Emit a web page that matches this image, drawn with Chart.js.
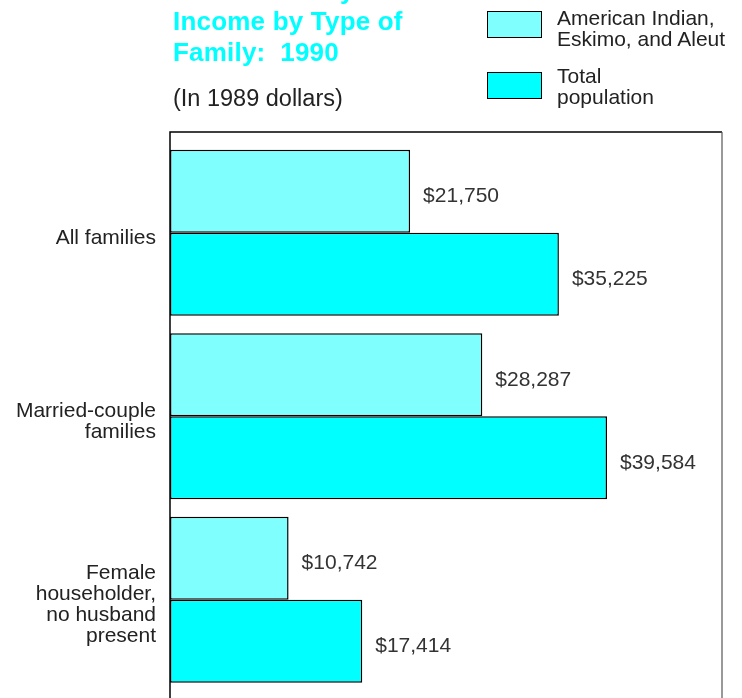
<!DOCTYPE html>
<html>
<head>
<meta charset="utf-8">
<script src="https://cdn.jsdelivr.net/npm/chart.js@4/dist/chart.umd.min.js"></script>
<style>
    body { margin: 0; background: #fff; font-family: "Liberation Sans", Arial, sans-serif; }
    #wrap { position: relative; width: 742px; height: 698px; overflow: hidden; }
    #chart { position: absolute; left: 0; top: 0; }
    .title { position: absolute; left: 173px; top: -25px; color: #00ffff; font-weight: bold; font-size: 26px; letter-spacing: 0.2px; line-height: 31px; white-space: nowrap; }
    .subtitle { position: absolute; left: 173px; top: 85px; color: #222; font-size: 23.5px; line-height: 26px; }
    .legend-box { position: absolute; left: 487px; width: 53px; height: 25px; border: 1.5px solid #000; }
    .legend-text { position: absolute; left: 557px; color: #222; font-size: 21px; line-height: 21px; white-space: nowrap; }
</style>
</head>
<body>
<div id="wrap">
    <canvas id="chart" width="742" height="698"></canvas>
    <div class="title">Median Family<br>Income by Type of<br>Family:&nbsp; 1990</div>
    <div class="subtitle">(In 1989 dollars)</div>
    <div id="legend"></div>
</div>
<script>
const categories = [
    ['All families'],
    ['Married-couple', 'families'],
    ['Female', 'householder,', 'no husband', 'present']
];
const seriesNames = [
    ['American Indian,', 'Eskimo, and Aleut'],
    ['Total', 'population']
];
const indianValues = [21750, 28287, 10742];
const totalValues = [35225, 39584, 17414];
const seriesColors = ['#80ffff', '#00ffff'];

// legend (two-line labels, so plain html)
const legendEl = document.getElementById('legend');
const legendTops = [11, 72];
const textTops = [7, 65];
seriesNames.forEach((name, i) => {
    const box = document.createElement('div');
    box.className = 'legend-box';
    box.style.top = legendTops[i] + 'px';
    box.style.background = seriesColors[i];
    legendEl.appendChild(box);
    const txt = document.createElement('div');
    txt.className = 'legend-text';
    txt.style.top = textTops[i] + 'px';
    txt.innerHTML = name.join('<br>');
    legendEl.appendChild(txt);
});

// frame round the plot, starts a bit above the first bar
const framePlugin = {
    id: 'frame',
    beforeDatasetsDraw(chart) {
        const { ctx, chartArea } = chart;
        const top = chartArea.top - 9;
        ctx.save();
        ctx.strokeStyle = '#000';
        ctx.lineWidth = 1.5;
        ctx.beginPath();
        ctx.moveTo(chartArea.left, chart.height);
        ctx.lineTo(chartArea.left, top);
        ctx.lineTo(chartArea.right, top);
        ctx.stroke();
        ctx.strokeStyle = '#555';
        ctx.lineWidth = 1.2;
        ctx.beginPath();
        ctx.moveTo(chartArea.right, top);
        ctx.lineTo(chartArea.right, chart.height);
        ctx.stroke();
        ctx.restore();
    }
};

const valueLabels = {
    id: 'valueLabels',
    afterDatasetsDraw(chart) {
        const { ctx } = chart;
        ctx.save();
        ctx.font = '21px "Liberation Sans", Arial, sans-serif';
        ctx.fillStyle = '#333';
        ctx.textAlign = 'left';
        ctx.textBaseline = 'alphabetic';
        chart.data.datasets.forEach((ds, di) => {
            chart.getDatasetMeta(di).data.forEach((bar, i) => {
                ctx.fillText('$' + ds.data[i].toLocaleString('en-US'), bar.x + 13, bar.y + 11);
            });
        });
        ctx.restore();
    }
};

const ctx = document.getElementById('chart').getContext('2d');
new Chart(ctx, {
    type: 'bar',
    data: {
        labels: categories,
        datasets: [
            {
                label: seriesNames[0].join(' '),
                data: indianValues,
                backgroundColor: seriesColors[0],
                borderColor: '#000',
                borderWidth: 1.5,
                borderSkipped: false
            },
            {
                label: seriesNames[1].join(' '),
                data: totalValues,
                backgroundColor: seriesColors[1],
                borderColor: '#000',
                borderWidth: 1.5,
                borderSkipped: false
            }
        ]
    },
    options: {
        indexAxis: 'y',
        responsive: false,
        animation: false,
        layout: { padding: { left: 0, right: 20, top: 141, bottom: 6.5 } },
        categoryPercentage: 0.905,
        barPercentage: 1,
        scales: {
            x: {
                display: false,
                min: 0,
                max: 50000
            },
            y: {
                grid: { display: false, drawTicks: false },
                border: { display: false },
                afterFit(scale) {
                    scale.width = 170;
                    scale.paddingTop = 0;
                    scale.paddingBottom = 0;
                },
                ticks: {
                    padding: 14,
                    labelOffset: 5,
                    color: '#222',
                    font: { family: '"Liberation Sans", Arial, sans-serif', size: 21, lineHeight: 1.0 }
                }
            }
        },
        plugins: {
            legend: { display: false },
            tooltip: { enabled: false }
        }
    },
    plugins: [framePlugin, valueLabels]
});
</script>
</body>
</html>
